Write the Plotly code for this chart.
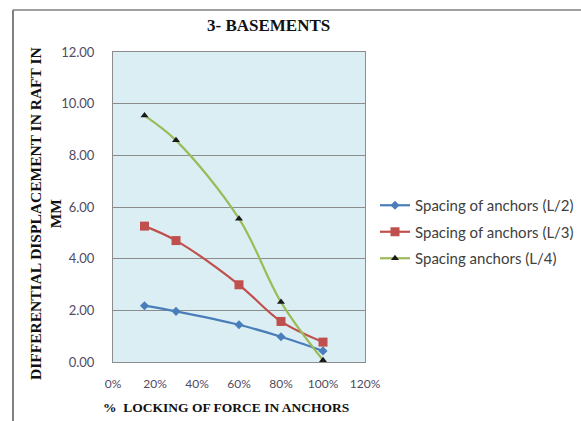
import plotly.graph_objects as go

# Locking force in anchors (fraction) and differential raft displacement (mm)
locking = [0.15, 0.30, 0.60, 0.80, 1.00]
disp_l2 = [2.18, 1.96, 1.44, 0.98, 0.43]
disp_l3 = [5.26, 4.70, 2.99, 1.57, 0.77]
disp_l4 = [9.54, 8.58, 5.55, 2.32, 0.07]

series_names = ["Spacing of anchors (L/2)", "Spacing of anchors (L/3)", "Spacing anchors (L/4)"]
x_ticks = [0, 0.2, 0.4, 0.6, 0.8, 1.0, 1.2]
y_ticks = [0, 2, 4, 6, 8, 10, 12]

W, H = 581, 421
ML, MT, MB = 113, 52, 59
PLOT_RIGHT = 365            # right edge of the plotting area in pixels
PAPER_W = W - ML            # paper spans from the left margin to the page edge
PH = H - MT - MB

fig = go.Figure()

styles = [
    dict(line_color="#4a7ebb", marker=dict(symbol="diamond", size=7, color="#4a7ebb")),
    dict(line_color="#c0504d", marker=dict(symbol="square", size=9, color="#c0504d")),
    dict(line_color="#9bbb59", marker=dict(symbol="triangle-up", size=7, color="#1a1a1a")),
]
for i, (ys, name) in enumerate(zip([disp_l2, disp_l3, disp_l4], series_names)):
    st = styles[i]
    fig.add_trace(go.Scatter(
        x=locking, y=ys, name=name, mode="lines+markers",
        line=dict(color=st["line_color"], width=2.2, shape="spline", smoothing=1.0),
        marker=st["marker"], legendgroup=f"g{i}",
    ))

def px_x(p):
    return (p - ML) / PAPER_W

def px_y(p):
    return (H - MB - p) / PH

fig.update_layout(
    width=W, height=H,
    margin=dict(l=ML, r=0, t=MT, b=MB, autoexpand=False),
    paper_bgcolor="white",
    plot_bgcolor="#dbeef4",
    showlegend=True,
    legend=dict(
        x=px_x(375), y=px_y(232), xanchor="left", yanchor="middle",
        font=dict(family="Lato", size=15, color="#404040"),
        itemwidth=30, tracegroupgap=4, bgcolor="rgba(0,0,0,0)",
    ),
    xaxis=dict(
        domain=[0, px_x(PLOT_RIGHT)],
        range=[0, 1.2], tickvals=x_ticks, tickformat=".0%",
        showgrid=False, zeroline=False, ticks="",
        showline=True, linecolor="#8c8c8c", linewidth=1, mirror=True,
        tickfont=dict(family="Lato", size=12, color="#514a62"),
        ticklabelstandoff=11,
    ),
    yaxis=dict(
        range=[0, 12], tickvals=y_ticks, tickformat=".2f",
        showgrid=True, gridcolor="#8c8c8c", gridwidth=1, zeroline=False, ticks="",
        showline=True, linecolor="#8c8c8c", linewidth=1, mirror=True,
        tickfont=dict(family="Lato", size=13, color="#514a62"),
        ticklabelstandoff=15,
    ),
    annotations=[
        dict(text="<b>3- BASEMENTS</b>", xref="paper", yref="paper",
             x=px_x(268), y=px_y(26), xanchor="center", yanchor="middle",
             showarrow=False, font=dict(family="Liberation Serif", size=17, color="#111111")),
        dict(text="<b>%  LOCKING OF FORCE IN ANCHORS</b>", xref="paper", yref="paper",
             x=px_x(226), y=px_y(407), xanchor="center", yanchor="middle",
             showarrow=False, font=dict(family="Liberation Serif", size=13.5, color="#111111")),
        dict(text="<b>DIFFERENTIAL DISPLACEMENT IN RAFT IN<br>MM</b>", xref="paper", yref="paper",
             x=px_x(45), y=px_y(214), xanchor="center", yanchor="middle", textangle=-90,
             showarrow=False, align="center",
             font=dict(family="Liberation Serif", size=15.5, color="#111111")),
    ],
    shapes=[
        dict(type="line", xref="paper", yref="paper",
             x0=px_x(13), x1=px_x(13), y0=px_y(10), y1=px_y(H + 2),
             line=dict(color="#808080", width=2)),
        dict(type="line", xref="paper", yref="paper",
             x0=px_x(13), x1=px_x(W + 2), y0=px_y(10), y1=px_y(10),
             line=dict(color="#808080", width=1.5)),
    ],
)

fig.write_html("out.html")
